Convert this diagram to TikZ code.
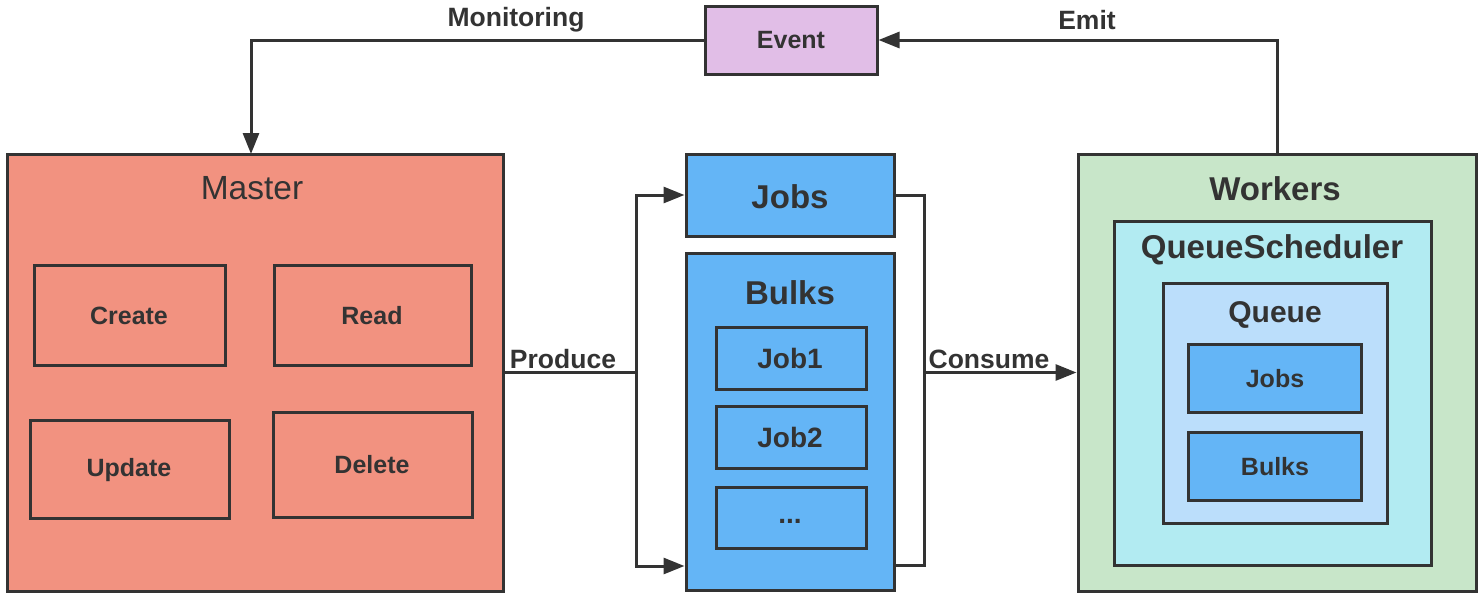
\documentclass[tikz,border=0pt]{standalone}
\usepackage{fontspec}
\setmainfont{Liberation Sans}
\usetikzlibrary{arrows.meta,calc}
\definecolor{ink}{HTML}{333333}
\definecolor{salmon}{HTML}{F29280}
\definecolor{blueA}{HTML}{64B5F6}
\definecolor{blueB}{HTML}{BBDEFB}
\definecolor{cyanA}{HTML}{B2EBF2}
\definecolor{greenA}{HTML}{C8E6C9}
\definecolor{purpleA}{HTML}{E1BEE7}
\newcommand{\fs}[1]{\fontsize{#1}{#1}\selectfont}
\tikzset{
  box/.style={draw=ink, line width=3pt, inner sep=0pt, rectangle},
  ttl/.style={text=ink, inner sep=0pt, font=\fs{33}\bfseries},
  sml/.style={text=ink, inner sep=0pt, font=\fs{25}\bfseries},
  lbl/.style={text=ink, inner sep=0pt, font=\fs{26.5}\bfseries},
  conn/.style={draw=ink, line width=3pt},
  arr/.style={conn, -{Triangle[length=21pt,width=16pt]}},
}
\begin{document}
\begin{tikzpicture}[x=1pt,y=-1pt]
\useasboundingbox (0,0) rectangle (1484,598);
% boxes
\node[box, fill=purpleA, minimum width=172pt, minimum height=68pt] (event) at (791,40) {};
\node[sml] (eventt) at (791,40) {Event};

\node[box, fill=salmon, minimum width=496pt, minimum height=437pt] (master) at (255,372.5) {};
\node[text=ink, inner sep=0pt, font=\fs{33.5}] (mastert) at (252,188) {Master};
\node[box, fill=salmon, minimum width=191pt, minimum height=100pt] (create) at (129.5,315) {};
\node[sml] (createt) at (129,316) {Create};
\node[box, fill=salmon, minimum width=197pt, minimum height=100pt] (read) at (372.5,315) {};
\node[sml] (readt) at (372,316) {Read};
\node[box, fill=salmon, minimum width=199pt, minimum height=98pt] (update) at (129.5,469) {};
\node[sml] (updatet) at (129,470) {Update};
\node[box, fill=salmon, minimum width=199pt, minimum height=105pt] (delete) at (372.5,464.5) {};
\node[sml] (deletet) at (372,465) {Delete};

\node[box, fill=blueA, minimum width=208pt, minimum height=82pt] (jobs) at (790,195) {};
\node[ttl] (jobst) at (790,197) {Jobs};
\node[box, fill=blueA, minimum width=208pt, minimum height=337pt] (bulks) at (790,421.5) {};
\node[ttl] (bulkst) at (790,293) {Bulks};
\node[box, fill=blueA, minimum width=150pt, minimum height=62pt] (job1) at (791,358) {};
\node[text=ink, inner sep=0pt, font=\fs{28}\bfseries] (job1t) at (790,358) {Job1};
\node[box, fill=blueA, minimum width=150pt, minimum height=62pt] (job2) at (791,437) {};
\node[text=ink, inner sep=0pt, font=\fs{28}\bfseries] (job2t) at (790,437) {Job2};
\node[box, fill=blueA, minimum width=150pt, minimum height=61pt] (job3) at (791,517.5) {};
\node[text=ink, inner sep=0pt, font=\fs{28}\bfseries] (job3t) at (790,521) {...};

\node[box, fill=greenA, minimum width=398pt, minimum height=437pt] (workers) at (1277,372.5) {};
\node[ttl] (workerst) at (1275,189) {Workers};
\node[box, fill=cyanA, minimum width=317pt, minimum height=344pt] (qs) at (1272.5,393) {};
\node[ttl] (qst) at (1272,250) {QueueScheduler};
\node[box, fill=blueB, minimum width=224pt, minimum height=240pt] (queue) at (1275,403) {};
\node[text=ink, inner sep=0pt, font=\fs{30}\bfseries] (queuet) at (1275,315) {Queue};
\node[box, fill=blueA, minimum width=173pt, minimum height=68pt] (qjobs) at (1274.5,378) {};
\node[sml] (qjobst) at (1275,379) {Jobs};
\node[box, fill=blueA, minimum width=173pt, minimum height=68pt] (qbulks) at (1274.5,466) {};
\node[sml] (qbulkst) at (1275,467) {Bulks};

% connectors
\coordinate (mn) at (251,154);
\draw[arr] (event.west) -| (mn);
\node[lbl] (monl) at (516,20) {Monitoring};
\draw[arr] (workers.north) |- (event.east);
\node[lbl] (emitl) at (1087,20) {Emit};

\coordinate (ps) at (636,372.5);
\coordinate (pb) at (636,566);
\draw[conn] (master.east) -- (ps);
\draw[arr] (ps) |- (jobs.west);
\draw[arr] (ps) -- (pb) -- (bulks.west |- pb);
\node[lbl] (prodl) at (563,359) {Produce};

\coordinate (cs) at (924,372.5);
\coordinate (ct) at (924,195);
\coordinate (cb) at (924,565);
\draw[conn] (jobs.east) -- (ct) -- (cb) -- (bulks.east |- cb);
\draw[arr] (cs) -- (workers.west);
\node[lbl] (consl) at (989,359) {Consume};
\end{tikzpicture}
\end{document}
